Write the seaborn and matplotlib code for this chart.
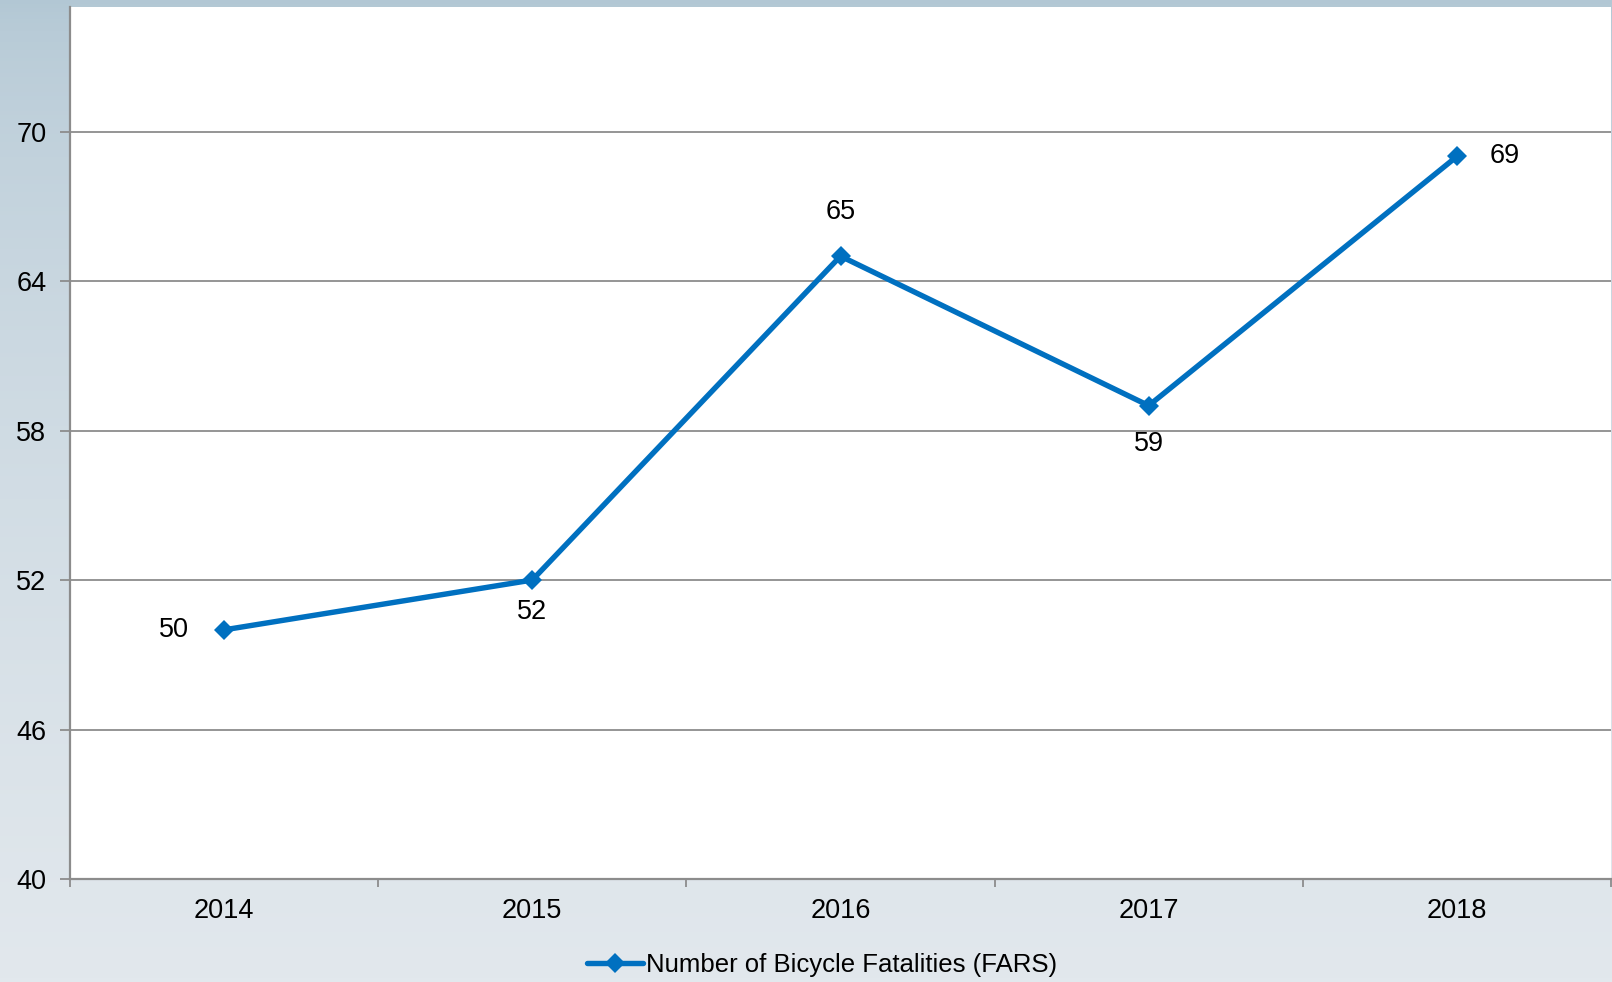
import numpy as np
import pandas as pd
import seaborn as sns
import matplotlib.pyplot as plt

# data
years = ['2014', '2015', '2016', '2017', '2018']
fatalities = [50, 52, 65, 59, 69]
series_name = 'Number of Bicycle Fatalities (FARS)'
yticks = [40, 46, 52, 58, 64, 70]
# where each value label sits relative to its point (dx, dy in px)
label_offsets = [(-50, 0), (0, -32), (0, 44), (0, -38), (48, 0)]

df = pd.DataFrame({'year': years, 'value': fatalities})

sns.set_theme(style='white')
plt.rcParams['font.family'] = ['Liberation Sans', 'DejaVu Sans']
fs = 19.5

fig = plt.figure(figsize=(16.12, 9.82), dpi=100)

# background gradient
bg = fig.add_axes([0, 0, 1, 1], zorder=-10)
grad = np.linspace(0, 1, 256).reshape(-1, 1)
top = np.array([178, 199, 212]) / 255
bot = np.array([226, 232, 237]) / 255
img = top + (bot - top) * grad[..., None] ** 0.6
img = np.repeat(img, 2, axis=1)
bg.imshow(img, aspect='auto', extent=[0, 1, 0, 1])
bg.set_axis_off()

ax = fig.add_axes([70 / 1612, 1 - 879 / 982, 1541 / 1612, 872 / 982])
ax.set_facecolor('white')

sns.lineplot(data=df, x='year', y='value', ax=ax, color='#0070C0',
             linewidth=3.9, marker='D', markersize=10.5, markeredgewidth=0,
             label=series_name, zorder=5)

ax.set_ylim(40, 75)
ax.set_xlim(-0.5, 4.5)
ax.set_yticks(yticks)
ax.yaxis.grid(True, color='#8c8c8c', linewidth=1.3)
ax.set_axisbelow(True)
ax.set_xlabel('')
ax.set_ylabel('')

# excel-style ticks between categories
ax.set_xticks(np.arange(5))
ax.set_xticklabels(years)
ax.set_xticks(np.arange(-0.5, 5, 1), minor=True)
ax.tick_params(axis='x', which='major', length=0, pad=14, labelsize=fs, colors='black')
ax.tick_params(axis='x', which='minor', length=6, width=1.3, color='#8c8c8c', direction='out', bottom=True)
ax.tick_params(axis='y', length=7, width=1.3, color='#8c8c8c', direction='out', left=True,
               labelsize=fs, pad=10, labelcolor='black')

for s in ['top', 'right']:
    ax.spines[s].set_visible(False)
for s in ['left', 'bottom']:
    ax.spines[s].set_color('#8c8c8c')
    ax.spines[s].set_linewidth(1.6)

for i, (v, (dx, dy)) in enumerate(zip(fatalities, label_offsets)):
    ax.annotate(str(v), (i, v), xytext=(dx * 0.72, dy * 0.72), textcoords='offset points',
                ha='center', va='center', fontsize=fs, color='black')

leg = ax.legend(loc='center', bbox_to_anchor=(822 / 1612, 1 - 965 / 982),
                bbox_transform=fig.transFigure, frameon=False, fontsize=18.5,
                handlelength=2.2, handletextpad=0.1, borderaxespad=0)
for t in leg.get_texts():
    t.set_color('black')

fig.savefig('out.png', dpi=100)
